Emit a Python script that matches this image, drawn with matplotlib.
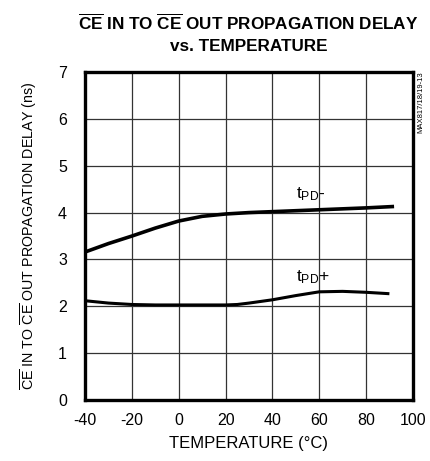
import matplotlib
matplotlib.use("Agg")
import matplotlib.pyplot as plt

# curve readings from the datasheet plot (temperature in degC, delay in ns)
temp_minus = [-40, -30, -20, -10, 0, 10, 20, 30, 40, 50, 60, 70, 80, 92]
tpd_minus = [3.16, 3.34, 3.50, 3.67, 3.82, 3.92, 3.97, 4.00, 4.02, 4.04, 4.06, 4.08, 4.10, 4.13]

temp_plus = [-40, -30, -20, -10, 0, 10, 20, 25, 30, 40, 50, 60, 70, 80, 90]
tpd_plus = [2.12, 2.07, 2.04, 2.03, 2.03, 2.03, 2.03, 2.04, 2.07, 2.14, 2.23, 2.31, 2.32, 2.30, 2.27]

x_ticks = [-40, -20, 0, 20, 40, 60, 80, 100]
y_ticks = [0, 1, 2, 3, 4, 5, 6, 7]

FONT = "Liberation Sans"

plt.rcParams.update({
    "font.family": [FONT, "DejaVu Sans"],
    "mathtext.fontset": "custom",
    "mathtext.rm": FONT,
    "mathtext.it": FONT,
    "mathtext.bf": FONT + ":bold",
    "axes.unicode_minus": False,
})

fig = plt.figure(figsize=(4.30, 4.61), dpi=100)
ax = fig.add_axes([0.198, 0.132, 0.762, 0.712])

ax.plot(temp_minus, tpd_minus, color="black", lw=2.6, solid_capstyle="butt")
ax.plot(temp_plus, tpd_plus, color="black", lw=2.2, solid_capstyle="butt")

ax.set_xlim(-40, 100)
ax.set_ylim(0, 7)
ax.set_xticks(x_ticks)
ax.set_yticks(y_ticks)
ax.tick_params(axis="x", length=0, labelsize=11.5, pad=9)
ax.tick_params(axis="y", length=0, labelsize=11.5, pad=13)
ax.grid(True, color="#333333", lw=0.9)
for s in ax.spines.values():
    s.set_linewidth(2.4)

ax.text(50, 4.2, r"t$_{\mathrm{PD}}$-", fontsize=12.5, ha="left", va="bottom")
ax.text(50, 2.43, r"t$_{\mathrm{PD}}$+", fontsize=12.5, ha="left", va="bottom")

ax.set_xlabel("TEMPERATURE (°C)", fontsize=12, labelpad=6)
ax.set_ylabel(r"$\overline{\mathrm{CE}}$ IN TO $\overline{\mathrm{CE}}$ OUT PROPAGATION DELAY (ns)",
              fontsize=10.3, labelpad=14)

fig.text(0.578, 0.972, r"$\overline{\mathbf{CE}}$ IN TO $\overline{\mathbf{CE}}$ OUT PROPAGATION DELAY",
         fontsize=12.3, fontweight="bold", ha="center", va="top")
fig.text(0.578, 0.915, "vs. TEMPERATURE", fontsize=12.3, fontweight="bold", ha="center", va="top")

fig.text(0.978, 0.845, "MAX817/18/19-13", fontsize=5.5, rotation=90, ha="center", va="top")

fig.savefig("out.png", dpi=100)
